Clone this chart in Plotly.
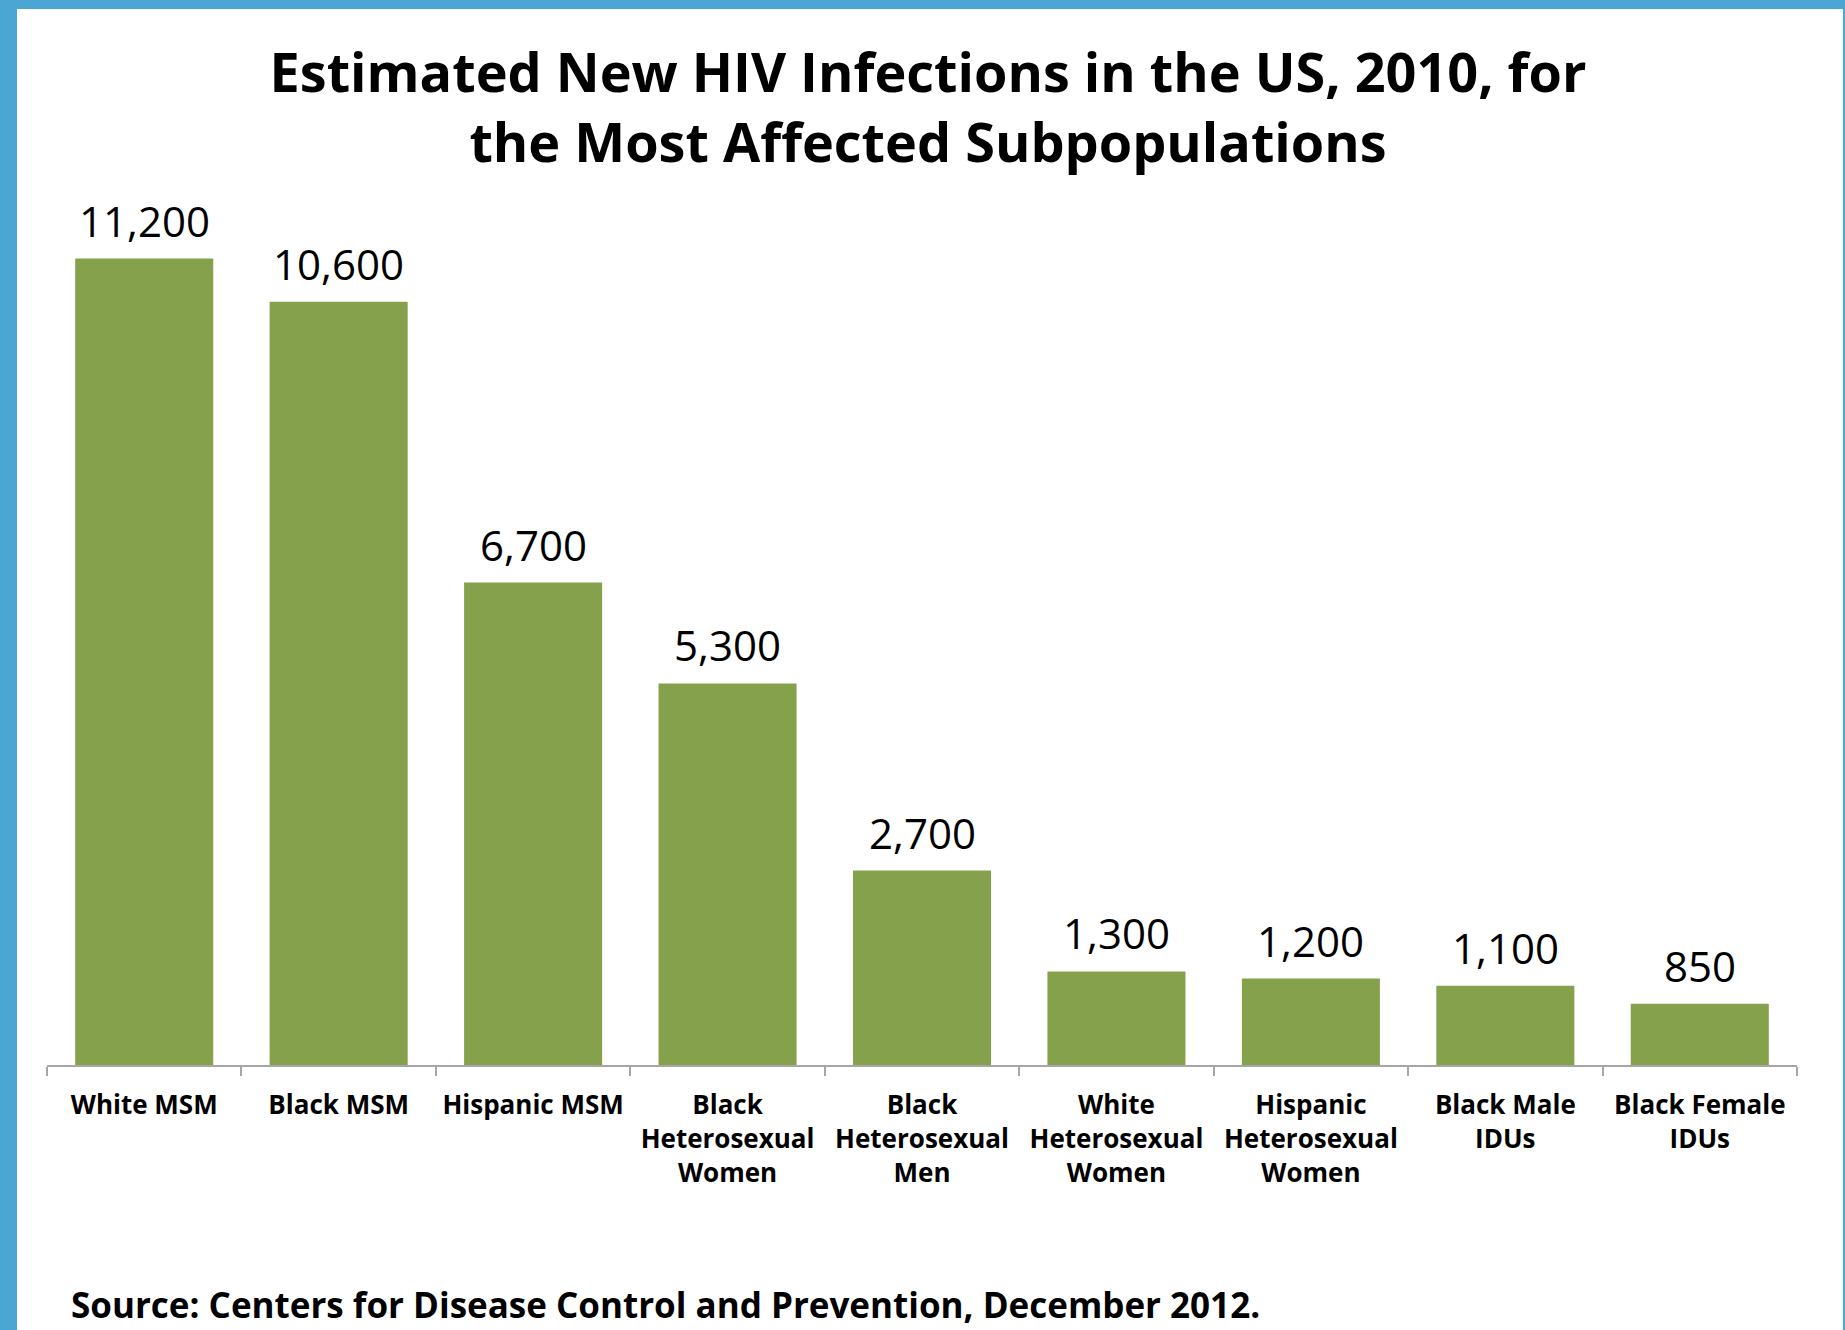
import plotly.graph_objects as go

categories = [
    "White MSM",
    "Black MSM",
    "Hispanic MSM",
    "Black<br>Heterosexual<br>Women",
    "Black<br>Heterosexual<br>Men",
    "White<br>Heterosexual<br>Women",
    "Hispanic<br>Heterosexual<br>Women",
    "Black Male<br>IDUs",
    "Black Female<br>IDUs",
]
values = [11200, 10600, 6700, 5300, 2700, 1300, 1200, 1100, 850]
value_labels = [f"{v:,}" for v in values]

title_text = "Estimated New HIV Infections in the US, 2010, for<br>the Most Affected Subpopulations"
source_text = "Source: Centers for Disease Control and Prevention, December 2012."

W, H = 1845, 1330
L, R, T, B = 47, 48, 201, 265
pw, ph = W - L - R, H - T - B

def px_x(x):
    return (x - L) / pw

def px_y(y):
    return (H - B - y) / ph

FONT = "Open Sans"

fig = go.Figure()
fig.add_trace(go.Bar(
    x=categories, y=values,
    marker=dict(color="#86A14C", line=dict(width=0)),
    hoverinfo="x+y",
))

for c, v, t in zip(categories, values, value_labels):
    fig.add_annotation(
        x=c, y=v, text=t, showarrow=False, xref="x", yref="y",
        yanchor="bottom", yshift=8,
        font=dict(family=FONT, size=42, color="#000000"),
    )

fig.add_annotation(
    xref="paper", yref="paper", x=px_x(69), y=px_y(1304),
    xanchor="left", yanchor="middle", showarrow=False,
    text="<b>" + source_text + "</b>",
    font=dict(family=FONT, size=35, color="#000000"),
)

# blue frame: paper background blue, white panel on top
fig.add_shape(
    type="rect", xref="paper", yref="paper", layer="below",
    x0=px_x(17), x1=px_x(1843), y0=px_y(H + 10), y1=px_y(9),
    fillcolor="#FFFFFF", line=dict(width=0),
)

fig.update_layout(
    width=W, height=H,
    margin=dict(l=L, r=R, t=T, b=B, autoexpand=False),
    paper_bgcolor="#4BA6D4",
    plot_bgcolor="rgba(0,0,0,0)",
    bargap=0.29,
    showlegend=False,
    title=dict(
        text="<b>" + title_text + "</b>",
        x=928 / W, xanchor="center",
        y=1 - 92 / H, yanchor="middle",
        font=dict(family=FONT, size=54, color="#000000"),
    ),
    xaxis=dict(
        type="category",
        tickson="boundaries",
        tickangle=0,
        ticks="outside", ticklen=9, tickwidth=2, tickcolor="#A6A6A6",
        showline=True, linecolor="#A6A6A6", linewidth=2,
        showgrid=False, zeroline=False,
        tickfont=dict(family=FONT, size=26, color="#000000"),
        ticklabelstandoff=16,
        tickprefix="<b>", ticksuffix="</b>",
    ),
    yaxis=dict(
        range=[0, 12000], visible=False, showgrid=False, zeroline=False,
    ),
)

fig.write_html("out.html")
